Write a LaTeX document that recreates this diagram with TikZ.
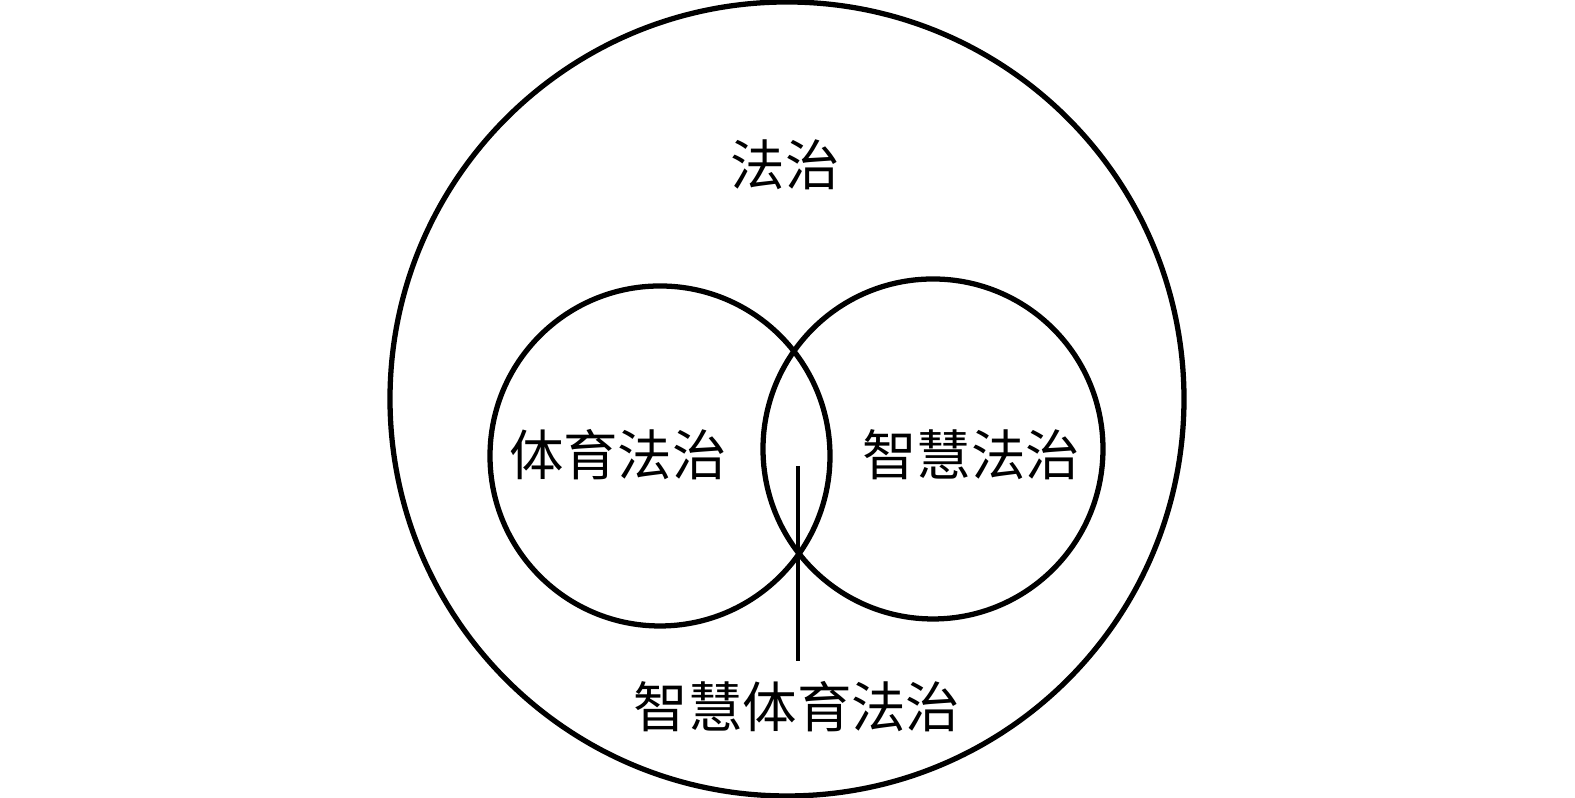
\documentclass[tikz,border=0pt]{standalone}
\usepackage{fontspec}
\newfontfamily\cjk{Noto Sans CJK SC}
\tikzset{ring/.style={line width=1.5pt},
  lbl/.style={font=\cjk\fontsize{15.5}{18}\selectfont,inner sep=0pt}}
\begin{document}
\begin{tikzpicture}
\useasboundingbox (0,0) rectangle (15.75,7.98);
\draw[ring] (7.87,3.99) circle (3.97);
\draw[ring] (6.60,3.42) circle (1.70);
\draw[ring] (9.33,3.49) circle (1.70);
\node[lbl] (rule) at (7.85,6.33) {法治};
\node[lbl] (sport) at (6.18,3.43) {体育法治};
\node[lbl] (smart) at (9.71,3.43) {智慧法治};
\node[lbl,anchor=north] (both) at (7.97,1.17) {智慧体育法治};
\coordinate (lens) at (7.98,3.32);
\draw[line width=1pt,shorten >=.2cm] (lens) -- (lens |- both.north);
\end{tikzpicture}
\end{document}
